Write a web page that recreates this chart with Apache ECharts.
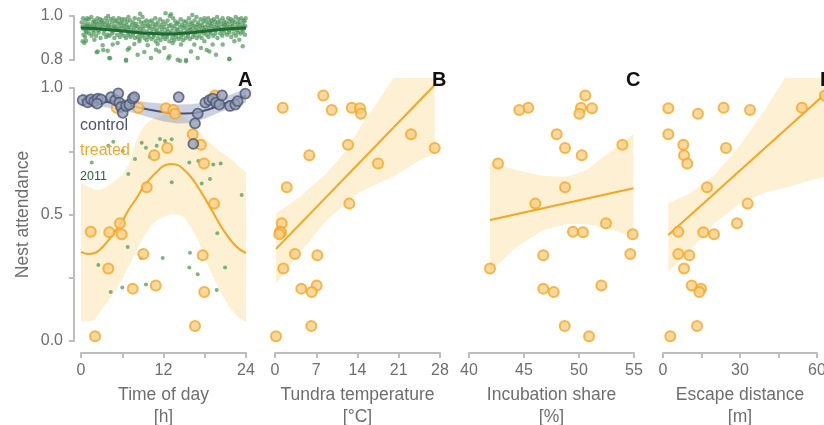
<!DOCTYPE html>
<html><head><meta charset="utf-8">
<script src="https://cdn.jsdelivr.net/npm/echarts@6/dist/echarts.min.js"></script>
<style>html,body{margin:0;padding:0;background:#fff}#c{width:824px;height:425px}</style>
</head><body><div id="c"></div>
<script>
// ---------- treated nests (same nests in panels A-D) ----------
const nestAttendance = [0.970,0.922,0.922,0.920,0.913,0.898,0.817,0.776,0.763,0.734,0.702,0.608,0.543,0.465,0.432,0.430,0.422,0.344,0.339,0.287,0.219,0.207,0.194,0.059,0.019];
const timeOfDay = [19.49,8.34,5.19,12.36,13.43,13.67,16.25,17.42,12.55,10.66,17.89,9.56,19.35,5.67,1.41,4.12,5.92,9.06,17.7,3.97,10.87,7.52,17.93,16.58,2.04];
const tundraTemp = [8.20,1.31,13.02,14.42,9.62,14.59,23.08,12.39,27.10,5.82,17.48,1.99,12.61,1.14,0.85,1.02,0.73,3.39,7.18,1.41,7.07,4.46,6.23,6.16,0.17];
const incubationShare = [50.57,45.39,50.18,51.18,44.57,50.03,47.97,53.94,48.73,50.25,42.64,48.73,46.03,52.45,49.45,50.36,54.88,54.66,46.75,41.91,52.03,46.75,47.70,48.70,50.91];
const escapeDistance = [63.1,23.6,54.1,2.06,33.9,13.63,2.06,7.91,24.54,8.18,9.47,17.14,32.99,28.83,5.96,15.70,19.87,5.96,10.25,8.18,11.18,14.80,14.14,13.25,2.84];

// ---------- control nests (panel A) ----------
const controlHour = [0.25,0.98,1.45,1.93,2.43,2.91,2.33,4.36,4.98,5.42,5.57,5.82,6.07,6.55,7.03,7.52,7.75,14.21,16.98,16.58,16.34,18.09,18.67,19.16,19.64,20.12,20.51,21.67,22.44,22.79,23.9];
const controlAttendance = [0.952,0.943,0.955,0.947,0.958,0.955,0.938,0.964,0.952,0.979,0.942,0.925,0.902,0.929,0.934,0.958,0.964,0.964,0.899,0.860,0.779,0.942,0.952,0.958,0.942,0.934,0.971,0.929,0.934,0.948,0.978];

// ---------- 2011 nests in panel A ----------
const hour2011A = [3.97,4.70,6.07,8.83,9.45,10.04,11.49,11.01,12.22,13.19,7.85,1.56,6.88,15.75,17.06,19.24,20.32,13.19,17.56,18.76,23.37,6.79,2.52,4.32,6.01,8.73,9.45,11.88,15.85,15.75,16.97,19.74,19.83,20.95];
const att2011A = [0.772,0.788,0.751,0.784,0.764,0.728,0.798,0.772,0.791,0.797,0.719,0.706,0.660,0.706,0.711,0.698,0.702,0.627,0.623,0.640,0.577,0.372,0.300,0.194,0.211,0.329,0.223,0.328,0.349,0.291,0.264,0.202,0.426,0.291];

// ---------- fits panel A ----------
const fitHour = [0,1,2,3,4,5,6,7,8,9,10,11,12,13,14,15,16,17,18,19,20,21,22,23,24];
const treatedFit = [0.352,0.344,0.348,0.368,0.399,0.435,0.474,0.522,0.561,0.605,0.640,0.668,0.692,0.700,0.696,0.676,0.648,0.609,0.565,0.518,0.470,0.427,0.391,0.364,0.348];
const treatedLow = [0.076,0.078,0.083,0.125,0.16,0.20,0.245,0.30,0.355,0.405,0.45,0.475,0.49,0.50,0.50,0.49,0.45,0.40,0.33,0.265,0.21,0.16,0.12,0.09,0.076];
const treatedHigh = [0.627,0.61,0.597,0.598,0.615,0.635,0.655,0.70,0.79,0.845,0.872,0.885,0.892,0.895,0.894,0.885,0.862,0.832,0.80,0.777,0.755,0.735,0.715,0.69,0.668];
const controlFitHour = [0,2,4,6,8,10,12,14,16,18,20,22,24];
const controlFit = [0.953,0.950,0.944,0.935,0.925,0.914,0.905,0.899,0.900,0.911,0.930,0.950,0.970];
const controlLow = [0.927,0.928,0.922,0.912,0.899,0.883,0.868,0.860,0.862,0.878,0.902,0.923,0.943];
const controlHigh = [0.978,0.972,0.966,0.958,0.950,0.943,0.938,0.935,0.936,0.943,0.958,0.976,0.997];

// ---------- fits panels B-D ----------
const tempFitX = [0.17,27.1], tempFit = [0.364,1.012];
const tempBandX = [0.17,4.24,8.77,12.16,14.43,17.26,20.08,24.6,27.1];
const tempLow = [0.228,0.349,0.478,0.545,0.59,0.62,0.649,0.715,0.742];
const tempHigh = [0.505,0.570,0.663,0.755,0.847,0.94,1.04,1.19,1.28];
const shareFitX = [41.91,54.94], shareFit = [0.478,0.604];
const shareBandX = [41.91,44.34,46.75,48.88,50.7,52.82,54.94];
const shareLow = [0.274,0.373,0.439,0.462,0.462,0.443,0.412];
const shareHigh = [0.705,0.676,0.652,0.649,0.676,0.748,0.817];
const escFitX = [2.06,63.1], escFit = [0.419,0.976];
const escBandX = [2.06,10.5,20,30,40,47.5,53.4,63.1];
const escLow = [0.274,0.36,0.465,0.544,0.588,0.605,0.623,0.65];
const escHigh = [0.544,0.584,0.655,0.773,0.918,1.04,1.12,1.25];

// ---------- top panel: 2011 nest attendance by hour ----------
const fit2011Hour = [0,4,9,12.4,15.3,18.7,21.6,24];
const fit2011 = [0.945,0.938,0.923,0.918,0.923,0.933,0.942,0.945];
const low2011 = [[0.24,0.885],[0.48,0.877],[0.73,0.888],[1.94,0.892],[2.42,0.839],[3.15,0.867],[3.88,0.842],[4.12,0.809],[4.61,0.870],[5.33,0.877],[6.55,0.801],[6.79,0.847],[7.03,0.855],[7.76,0.873],[8.24,0.824],[8.48,0.885],[9.21,0.836],[9.70,0.867],[10.18,0.809],[10.91,0.847],[11.15,0.873],[11.39,0.839],[12.12,0.855],[12.85,0.817],[13.33,0.877],[14.06,0.801],[14.55,0.870],[15.27,0.794],[16.0,0.839],[16.48,0.870],[16.97,0.809],[17.45,0.855],[17.94,0.885],[18.67,0.839],[19.15,0.870],[19.64,0.824],[20.61,0.870],[21.58,0.806],[22.3,0.885],[23.03,0.892],[23.52,0.862],[2.28,0.835],[3.24,0.845],[4.22,0.808],[6.55,0.797],[12.7,0.808],[14.4,0.797],[15.27,0.80],[18.28,0.845],[21.57,0.803],[8.6,1.01],[12.3,1.012],[13.1,1.008],[16.2,1.005]];
const mid2011 = [[0.35,0.915],[0.6,0.905],[0.8,0.925],[1.2,0.92],[1.55,0.91],[1.85,0.925],[2.2,0.91],[2.55,0.925],[2.85,0.9],[3.3,0.92],[3.65,0.905],[3.85,0.915],[4.15,0.91],[4.55,0.92],[4.85,0.9],[5.25,0.915],[5.65,0.905],[5.85,0.92],[6.25,0.91],[6.55,0.9],[6.85,0.915],[7.2,0.905],[7.55,0.915],[7.85,0.9],[8.25,0.905],[8.55,0.895],[8.85,0.91],[9.25,0.9],[9.55,0.89],[9.85,0.905],[10.25,0.895],[10.55,0.905],[10.85,0.885],[11.2,0.9],[11.55,0.89],[11.85,0.905],[12.25,0.895],[12.55,0.905],[12.85,0.885],[13.25,0.9],[13.55,0.89],[13.85,0.905],[14.2,0.895],[14.55,0.905],[14.85,0.89],[15.25,0.9],[15.55,0.91],[15.85,0.895],[16.25,0.905],[16.55,0.915],[16.85,0.9],[17.2,0.91],[17.55,0.9],[17.85,0.92],[18.25,0.915],[18.55,0.905],[18.85,0.92],[19.25,0.91],[19.55,0.92],[19.85,0.9],[20.25,0.92],[20.55,0.91],[20.85,0.925],[21.25,0.915],[21.55,0.925],[21.85,0.905],[22.2,0.92],[22.55,0.91],[22.85,0.925],[23.25,0.92],[23.55,0.93],[23.85,0.915]];
const dense2011 = [[0.1,0.97],[0.2,0.95],[0.3,0.99],[0.45,0.94],[0.55,0.96],[0.65,0.98],[0.75,0.93],[0.85,0.955],[0.9,0.99],[0.95,0.945],
[1.05,0.965],[1.15,0.985],[1.25,0.94],[1.35,0.955],[1.5,0.995],[1.6,0.95],[1.7,0.97],[1.8,0.935],[1.9,0.98],[1.95,0.96],
[2.05,0.945],[2.15,0.975],[2.3,0.96],[2.4,0.99],[2.5,0.935],[2.6,0.97],[2.7,0.95],[2.8,0.985],[2.9,0.94],[2.95,0.965],
[3.05,0.98],[3.15,0.95],[3.25,0.97],[3.4,0.935],[3.5,0.96],[3.6,0.99],[3.7,0.945],[3.8,0.975],[3.9,0.955],[3.95,1.0],
[4.05,0.96],[4.2,0.94],[4.3,0.985],[4.4,0.95],[4.5,0.97],[4.6,0.93],[4.7,0.99],[4.8,0.955],[4.9,0.94],[4.95,0.975],
[5.05,0.95],[5.15,0.98],[5.3,0.94],[5.4,0.965],[5.5,0.99],[5.6,0.945],[5.7,0.97],[5.8,0.93],[5.9,0.955],[5.95,0.985],
[6.05,0.97],[6.2,0.94],[6.3,0.955],[6.4,0.985],[6.5,0.935],[6.6,0.96],[6.7,0.975],[6.8,0.945],[6.9,0.995],[6.95,0.925],
[7.05,0.95],[7.15,0.98],[7.3,0.935],[7.4,0.96],[7.5,0.925],[7.6,0.97],[7.7,0.945],[7.8,0.99],[7.9,0.93],[7.95,0.955],
[8.05,0.965],[8.2,0.93],[8.3,0.95],[8.4,0.985],[8.5,0.92],[8.6,0.94],[8.7,0.97],[8.8,0.925],[8.9,0.955],[8.95,0.995],
[9.05,0.94],[9.15,0.97],[9.3,0.92],[9.4,0.955],[9.5,0.98],[9.6,0.93],[9.7,0.96],[9.8,0.915],[9.9,0.945],[9.95,0.975],
[10.05,0.955],[10.2,0.925],[10.3,0.98],[10.4,0.94],[10.5,0.965],[10.6,0.915],[10.7,0.95],[10.8,0.99],[10.9,0.93],[10.95,0.96],
[11.05,0.935],[11.15,0.97],[11.3,0.92],[11.4,0.95],[11.5,0.985],[11.6,0.925],[11.7,0.96],[11.8,0.94],[11.9,0.915],[11.95,0.975],
[12.05,0.95],[12.2,0.925],[12.3,0.965],[12.4,0.915],[12.5,0.94],[12.6,0.98],[12.7,0.93],[12.8,0.955],[12.9,1.0],[12.95,0.92],
[13.05,0.96],[13.2,0.93],[13.3,0.945],[13.4,0.99],[13.5,0.915],[13.6,0.955],[13.7,0.975],[13.8,0.925],[13.9,0.94],[13.95,0.965],
[14.05,0.935],[14.15,0.97],[14.3,0.92],[14.4,0.95],[14.5,0.985],[14.6,0.93],[14.7,0.96],[14.8,0.915],[14.9,0.945],[14.95,0.975],
[15.05,0.955],[15.2,0.925],[15.3,0.975],[15.4,0.94],[15.5,0.96],[15.6,0.92],[15.7,0.99],[15.8,0.935],[15.9,0.95],[15.95,0.97],
[16.05,0.94],[16.2,0.965],[16.3,0.925],[16.4,0.955],[16.5,0.98],[16.6,0.935],[16.7,0.95],[16.8,0.995],[16.9,0.93],[16.95,0.96],
[17.05,0.97],[17.15,0.94],[17.3,0.955],[17.4,0.985],[17.5,0.93],[17.6,0.96],[17.7,0.945],[17.8,0.975],[17.9,0.935],[17.95,0.99],
[18.05,0.95],[18.2,0.975],[18.3,0.935],[18.4,0.96],[18.5,0.99],[18.6,0.945],[18.7,0.97],[18.8,0.93],[18.9,0.955],[18.95,0.98],
[19.05,0.965],[19.2,0.94],[19.3,0.985],[19.4,0.95],[19.5,0.975],[19.6,0.935],[19.7,0.96],[19.8,0.995],[19.9,0.945],[19.95,0.97],
[20.05,0.95],[20.15,0.98],[20.3,0.94],[20.4,0.965],[20.5,0.935],[20.6,0.99],[20.7,0.955],[20.8,0.975],[20.9,0.94],[20.95,0.96],
[21.05,0.97],[21.2,0.945],[21.3,0.96],[21.4,0.99],[21.5,0.935],[21.6,0.975],[21.7,0.95],[21.8,0.985],[21.9,0.94],[21.95,0.965],
[22.05,0.955],[22.15,0.98],[22.3,0.94],[22.4,0.97],[22.5,0.995],[22.6,0.95],[22.7,0.935],[22.8,0.965],[22.9,0.985],[22.95,0.945],
[23.05,0.97],[23.2,0.95],[23.3,0.99],[23.4,0.94],[23.5,0.96],[23.6,0.98],[23.7,0.945],[23.8,0.975],[23.9,0.955],[23.95,0.99]];

// ---------- axis labels ----------
const yTitle = 'Nest attendance';
const xTitles = ['Time of day\n[h]', 'Tundra temperature\n[°C]', 'Incubation share\n[%]', 'Escape distance\n[m]'];
const panelLetters = ['A','B','C','D'];
const legendLabels = ['control','treated','2011'];

// ---------- styles ----------
const FONT = "'Liberation Sans', Arial, sans-serif";
const GREY = '#6e6e6e', AXIS = '#bdbdbd';
const NAVY = '#4b5577', ORANGE = '#f6a623', DGREEN = '#1d6a33';
const PX = [81, 275, 469, 663], PW = 165;
const axisLineCfg = {show:true, onZero:false, lineStyle:{color:AXIS, width:2}};
const tickCfg = {show:true, length:5, lineStyle:{color:AXIS, width:2}};
const zip = (a,b) => a.map((v,i)=>[v,b[i]]);

const grids = [], xAxes = [], yAxes = [], series = [];
function addGrid(g, xa, ya){ grids.push(Object.assign({outerBoundsMode:'none', containLabel:false}, g)); const i = grids.length-1; xAxes.push(Object.assign({gridIndex:i, type:'value', splitLine:{show:false}}, xa)); yAxes.push(Object.assign({gridIndex:i, type:'value', splitLine:{show:false}}, ya)); return i; }
const xLabel = (fmt) => ({show:true, color:GREY, fontSize:16, margin:10, fontFamily:FONT, formatter:fmt});
const xName = (n) => ({name:n, nameLocation:'middle', nameGap:25, nameTextStyle:{color:GREY, fontSize:17.5, lineHeight:22, fontFamily:FONT}});
const yLabel = (fmt) => ({color:GREY, fontSize:16, margin:11, fontFamily:FONT, formatter:fmt});
const hid = {show:false, axisLine:{onZero:false}};

// frame grids (range frames only)
addGrid({left:PX[0], top:88, width:PW, height:253},
  Object.assign({min:0, max:24, interval:6, offset:12, axisLine:axisLineCfg, axisTick:tickCfg, axisLabel:xLabel(v=>v%12===0?String(v):'')}, xName(xTitles[0])),
  {min:0, max:1, interval:0.25, offset:7, axisLine:axisLineCfg, axisTick:tickCfg,
   axisLabel:yLabel(v=>(v===0||v===0.5||v===1)?v.toFixed(1):''),
   name:yTitle, nameLocation:'middle', nameGap:42, nameTextStyle:{color:GREY, fontSize:17.5, fontFamily:FONT}});
addGrid({left:PX[1], top:88, width:PW, height:253},
  Object.assign({min:0, max:28, interval:7, offset:12, axisLine:axisLineCfg, axisTick:tickCfg, axisLabel:xLabel(v=>String(v))}, xName(xTitles[1])),
  Object.assign({min:0, max:1}, hid));
addGrid({left:PX[2], top:88, width:PW, height:253},
  Object.assign({min:40, max:55, interval:5, offset:12, axisLine:axisLineCfg, axisTick:tickCfg, axisLabel:xLabel(v=>String(v))}, xName(xTitles[2])),
  Object.assign({min:0, max:1}, hid));
addGrid({left:PX[3], top:88, width:154, height:253},
  Object.assign({min:0, max:60, interval:15, offset:12, axisLine:axisLineCfg, axisTick:tickCfg, axisLabel:xLabel(v=>v%30===0?String(v):'')}, xName(xTitles[3])),
  Object.assign({min:0, max:1}, hid));
addGrid({left:PX[0], top:16, width:PW, height:44},
  Object.assign({min:0, max:24}, hid),
  {min:0.8, max:1.0, interval:0.2, offset:7, axisLine:axisLineCfg, axisTick:tickCfg, axisLabel:yLabel(v=>v.toFixed(1))});
// data grids
const gTop = addGrid({left:PX[0], top:11.6, width:PW, height:50.6}, Object.assign({min:0, max:24}, hid), Object.assign({min:0.79, max:1.02}, hid));
const gA = addGrid({left:PX[0], top:77.88, width:PW, height:273.24}, Object.assign({min:0, max:24}, hid), Object.assign({min:-0.04, max:1.04}, hid));
const gB = addGrid({left:PX[1], top:77.88, width:PW, height:273.24}, Object.assign({min:0, max:28}, hid), Object.assign({min:-0.04, max:1.04}, hid));
const gC = addGrid({left:PX[2], top:77.88, width:PW, height:273.24}, Object.assign({min:40, max:55}, hid), Object.assign({min:-0.04, max:1.04}, hid));
const gD = addGrid({left:PX[3], top:77.88, width:PW, height:273.24}, Object.assign({min:0, max:64.29}, hid), Object.assign({min:-0.04, max:1.04}, hid));

// confidence ribbon: one polygon through the axis scales, clamped to the panel
function band(xs, lo, hi, color, gi){
  return {type:'custom', xAxisIndex:gi, yAxisIndex:gi, silent:true, z:1,
    data: xs.map((x,i)=>[x, lo[i], hi[i]]),
    encode:{x:0, y:[1,2]},
    renderItem:(params, api)=>{
      if (params.dataIndex !== 0) return null;
      const pts = [];
      for (let i=0;i<xs.length;i++) pts.push(api.coord([xs[i], hi[i]]));
      for (let i=xs.length-1;i>=0;i--) pts.push(api.coord([xs[i], lo[i]]));
      const cs = params.coordSys;
      const clipped = echarts.graphic.clipPointsByRect(pts, {x:cs.x, y:cs.y, width:cs.width, height:cs.height});
      return {type:'polygon', shape:{points:clipped}, style:{fill:color}};
    }};
}
function fitLine(xs, ys, color, gi, w, smooth){
  return {type:'line', xAxisIndex:gi, yAxisIndex:gi, data:zip(xs,ys), symbol:'none', lineStyle:{color:color, width:w}, smooth:smooth, silent:true, z:3};
}
const CREAM = 'rgba(250,205,110,0.30)', BLUEBAND = 'rgba(130,145,180,0.42)';
const treatedPts = (xs, gi) => ({type:'scatter', xAxisIndex:gi, yAxisIndex:gi, data:zip(xs, nestAttendance), symbol:'circle', symbolSize:10, itemStyle:{color:'#fbcf88', borderColor:ORANGE, borderWidth:2}, silent:true, z:5});

// top panel
series.push({type:'scatter', xAxisIndex:gTop, yAxisIndex:gTop, data:dense2011.concat(mid2011, low2011), symbolSize:4.5, itemStyle:{color:'rgba(78,148,88,0.88)'}, silent:true, z:2});
series.push(fitLine(fit2011Hour, fit2011, DGREEN, gTop, 3, true));
// panel A
series.push(band(fitHour, treatedLow, treatedHigh, CREAM, gA));
series.push(band(controlFitHour, controlLow, controlHigh, BLUEBAND, gA));
series.push(fitLine(fitHour, treatedFit, ORANGE, gA, 2, true));
series.push(fitLine(controlFitHour, controlFit, NAVY, gA, 2, true));
series.push({type:'scatter', xAxisIndex:gA, yAxisIndex:gA, data:zip(hour2011A, att2011A), symbolSize:4, itemStyle:{color:'#5fa064'}, silent:true, z:4});
series.push(treatedPts(timeOfDay, gA));
series.push({type:'scatter', xAxisIndex:gA, yAxisIndex:gA, data:zip(controlHour, controlAttendance), symbol:'circle', symbolSize:10, itemStyle:{color:'#959db3', borderColor:NAVY, borderWidth:1.8}, silent:true, z:6});
// panel B
series.push(band(tempBandX, tempLow, tempHigh, CREAM, gB));
series.push(fitLine(tempFitX, tempFit, ORANGE, gB, 2, false));
series.push(treatedPts(tundraTemp, gB));
// panel C
series.push(band(shareBandX, shareLow, shareHigh, CREAM, gC));
series.push(fitLine(shareFitX, shareFit, ORANGE, gC, 2, false));
series.push(treatedPts(incubationShare, gC));
// panel D
series.push(band(escBandX, escLow, escHigh, CREAM, gD));
series.push(fitLine(escFitX, escFit, ORANGE, gD, 2, false));
series.push(treatedPts(escapeDistance, gD));

const graphics = [];
panelLetters.forEach((L,i)=>graphics.push({type:'text', left:PX[i]+PW-8, top:70, style:{text:L, fontSize:20, fontWeight:'bold', fill:'#111', fontFamily:FONT}, z:100}));
const legendCols = [NAVY, ORANGE, DGREEN], legendTop = [118, 143, 170], legendSize = [16, 16, 12.5];
legendLabels.forEach((t,i)=>graphics.push({type:'text', left:80, top:legendTop[i], style:{text:t, fontSize:legendSize[i], fill:legendCols[i], fontFamily:FONT}, z:100}));

const chart = echarts.init(document.getElementById('c'), null, {renderer:'canvas'});
chart.setOption({animation:false, backgroundColor:'#fff', textStyle:{fontFamily:FONT}, grid:grids, xAxis:xAxes, yAxis:yAxes, series:series, graphic:graphics});
</script></body></html>
